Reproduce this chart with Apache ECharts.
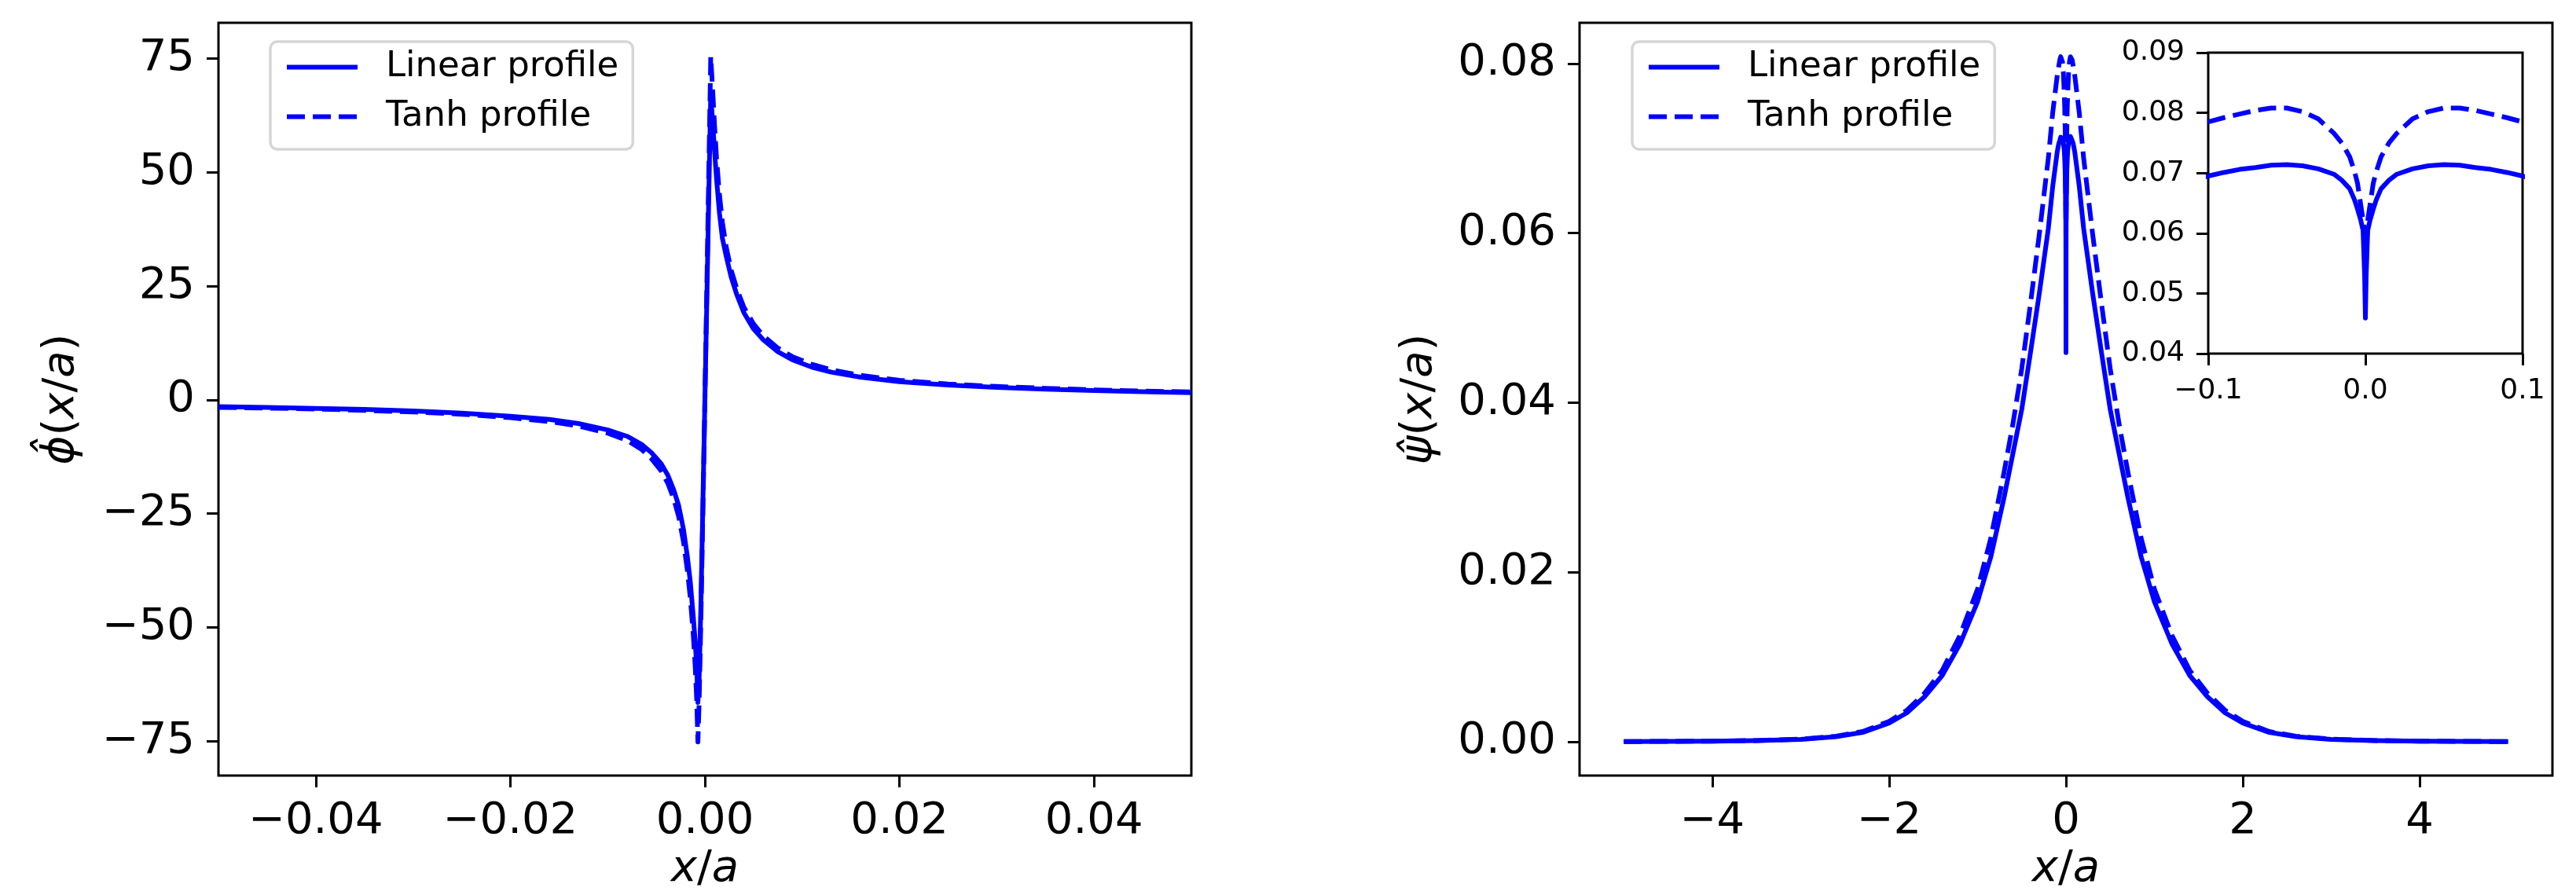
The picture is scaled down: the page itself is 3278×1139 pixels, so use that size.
<!DOCTYPE html>
<html><head><meta charset="utf-8">
<script src="https://cdn.jsdelivr.net/npm/echarts@6/dist/echarts.min.js"></script>
<style>html,body{margin:0;padding:0;background:#fff}#c{width:3278px;height:1139px}</style>
</head><body><div id="c"></div>
<script>
// ---------- data ----------
const seriesNames = ['Linear profile', 'Tanh profile'];

// left panel: phi-hat(x/a)
const phiX = [-0.05,-0.045,-0.04,-0.035,-0.03,-0.025,-0.02,-0.016,-0.013,-0.01,-0.008,-0.0065,-0.0055,-0.0045,-0.0038,-0.0032,-0.0027,-0.0022,-0.0018,-0.0015,-0.0012,-0.001,-0.00085,-0.00072,-0.0006,-0.0004,-0.0002,0,0.0002,0.0004,0.0006,0.0008,0.001,0.0012,0.0015,0.0018,0.0022,0.0027,0.0033,0.004,0.005,0.006,0.0075,0.009,0.011,0.013,0.016,0.02,0.025,0.03,0.035,0.04,0.045,0.05];
const phiLinear = [-1.5,-1.65,-1.85,-2.1,-2.45,-2.9,-3.6,-4.3,-5.2,-6.6,-8.0,-9.8,-11.6,-14.0,-16.6,-19.8,-23.2,-28.5,-34.5,-40,-47.5,-53,-58.5,-66.5,-62,-44,-22,0,22,45,67,61,54.5,48.5,41,35.5,31.5,27,23,19.2,15.6,13.2,10.6,8.8,7.2,6.1,5.0,4.0,3.25,2.75,2.35,2.05,1.8,1.6];
const phiTanh = [-1.65,-1.8,-2.0,-2.3,-2.65,-3.15,-3.9,-4.75,-5.75,-7.3,-8.9,-10.9,-12.9,-15.6,-18.4,-21.8,-25.6,-31.2,-37.5,-43.5,-51.5,-58.5,-65.5,-75.2,-67,-47,-23.5,0,25,50,75.5,68,60,53,45,39,33.5,28.5,24.3,20.4,16.7,14.1,11.4,9.5,7.8,6.6,5.4,4.3,3.5,2.95,2.55,2.2,1.95,1.75];

// right panel: psi-hat(x/a)
const psiX = [-5,-4.5,-4,-3.5,-3,-2.6,-2.3,-2,-1.8,-1.6,-1.4,-1.2,-1,-0.85,-0.7,-0.6,-0.5,-0.4,-0.3,-0.2,-0.15,-0.1,-0.09,-0.08,-0.07,-0.06,-0.05,-0.04,-0.03,-0.02,-0.015,-0.01,-0.007,-0.005,-0.003,-0.0015,-0.0005,0,0.0005,0.0015,0.003,0.005,0.007,0.01,0.015,0.02,0.03,0.04,0.05,0.06,0.07,0.08,0.09,0.1,0.15,0.2,0.3,0.4,0.5,0.6,0.7,0.85,1,1.2,1.4,1.6,1.8,2,2.3,2.6,3,3.5,4,4.5,5];
const psiLinear = [0.00002,0.00004,0.00007,0.00013,0.00027,0.0006,0.0011,0.0022,0.0034,0.0053,0.0078,0.0115,0.0165,0.0218,0.0288,0.0340,0.0392,0.0460,0.0530,0.0605,0.0655,0.0695,0.0701,0.0706,0.0709,0.0713,0.0714,0.0712,0.0707,0.0698,0.0688,0.0674,0.0656,0.0640,0.0622,0.0605,0.0530,0.0459,0.0530,0.0605,0.0622,0.0640,0.0656,0.0674,0.0688,0.0698,0.0707,0.0712,0.0714,0.0713,0.0709,0.0706,0.0701,0.0695,0.0655,0.0605,0.0530,0.0460,0.0392,0.0340,0.0288,0.0218,0.0165,0.0115,0.0078,0.0053,0.0034,0.0022,0.0011,0.0006,0.00027,0.00013,0.00007,0.00004,0.00002];
const psiTanh = [0.00002,0.00004,0.00007,0.00014,0.0003,0.00065,0.0012,0.0024,0.0037,0.0057,0.0084,0.0125,0.0180,0.0240,0.0318,0.0375,0.0440,0.0518,0.0600,0.0688,0.0742,0.0785,0.0792,0.0798,0.0804,0.0808,0.0808,0.0802,0.0790,0.0766,0.0750,0.0727,0.0703,0.0683,0.0648,0.0622,0.0605,0.0596,0.0605,0.0622,0.0648,0.0683,0.0703,0.0727,0.0750,0.0766,0.0790,0.0802,0.0808,0.0808,0.0804,0.0798,0.0792,0.0785,0.0742,0.0688,0.0600,0.0518,0.0440,0.0375,0.0318,0.0240,0.0180,0.0125,0.0084,0.0057,0.0037,0.0024,0.0012,0.00065,0.0003,0.00014,0.00007,0.00004,0.00002];

// tick labels
const phiXTicks = [-0.04,-0.02,0,0.02,0.04];
const phiYTicks = [-75,-50,-25,0,25,50,75];
const psiXTicks = [-4,-2,0,2,4];
const psiYTicks = [0,0.02,0.04,0.06,0.08];
const insetXTicks = [-0.1,0,0.1];
const insetYTicks = [0.04,0.05,0.06,0.07,0.08,0.09];

// ---------- chart ----------
const FONT = "'DejaVu Sans', sans-serif";
const BLUE = '#0000ff';
const DASH = [23, 10];
const fmt = d => v => (v < -1e-12 ? '\u2212' : '') + Math.abs(v).toFixed(d);
const pairs = (xs, ys) => xs.map((x, i) => [x, ys[i]]);

function valueAxis(gridIndex, min, max, ticks, dec, fs, extra) {
  return Object.assign({
    type: 'value', gridIndex, min, max,
    axisLine: { show: false, onZero: false },
    axisTick: { show: true, inside: false, length: 15, customValues: ticks, lineStyle: { color: '#000', width: 3 } },
    axisLabel: { show: true, customValues: ticks, formatter: fmt(dec), fontSize: fs, fontFamily: FONT, color: '#000', margin: 30 },
    splitLine: { show: false }
  }, extra || {});
}
const nameStyle = {
  fontFamily: FONT, fontSize: 56, color: '#000',
  rich: {
    i: { fontFamily: FONT, fontSize: 56, fontStyle: 'italic', color: '#000', lineHeight: 64 },
    n: { fontFamily: FONT, fontSize: 56, color: '#000', lineHeight: 64 }
  }
};
const xName = '{i|x}{n|/}{i|a}';

function lineSeries(name, xi, xs, ys, dashed, z) {
  return {
    type: 'line', name, xAxisIndex: xi, yAxisIndex: xi,
    data: pairs(xs, ys), symbol: 'none', showSymbol: false, clip: true,
    z: z || 2, animation: false,
    lineStyle: { color: BLUE, width: 6, type: dashed ? DASH : 'solid', join: 'round', cap: 'butt' },
    itemStyle: { color: BLUE }
  };
}
function legendAt(left) {
  return {
    data: seriesNames, left, top: 53, orient: 'vertical',
    itemWidth: 90, itemHeight: 14, itemGap: 18,
    padding: [10, 18, 19, 18],
    backgroundColor: '#fff', borderColor: '#d6d6d6', borderWidth: 3.5, borderRadius: 9,
    selectedMode: false,
    lineStyle: { width: 6 },
    itemStyle: { opacity: 0 },
    formatter: n => '{s|}{t|' + n + '}',
    textStyle: { fontFamily: FONT, fontSize: 45, color: '#000',
      rich: { s: { width: 31, lineHeight: 50 }, t: { fontFamily: FONT, fontSize: 45, color: '#000', lineHeight: 50 } } }
  };
}

const gridBox = { show: true, borderColor: '#000', borderWidth: 3, backgroundColor: '#fff' };
const option = {
  animation: false,
  backgroundColor: '#fff',
  grid: [
    Object.assign({ left: 278, top: 29, width: 1238, height: 960 }, gridBox),
    Object.assign({ left: 2010, top: 29, width: 1238, height: 960 }, gridBox),
    Object.assign({ left: 2810, top: 67, width: 400, height: 383, z: 5 }, gridBox)
  ],
  xAxis: [
    valueAxis(0, -0.05, 0.05, phiXTicks, 2, 56, { name: xName, nameLocation: 'middle', nameGap: 76, nameTextStyle: nameStyle }),
    valueAxis(1, -5.5, 5.5, psiXTicks, 0, 56, { name: xName, nameLocation: 'middle', nameGap: 76, nameTextStyle: nameStyle }),
    valueAxis(2, -0.1, 0.1, insetXTicks, 1, 36, { z: 6 })
  ],
  yAxis: [
    valueAxis(0, -82.6, 82.9, phiYTicks, 0, 56, { name: '{i|\u03D5\u0302}{n|(}{i|x}{n|/}{i|a}{n|)}', nameLocation: 'middle', nameRotate: 90, nameGap: 168, nameTextStyle: nameStyle }),
    valueAxis(1, -0.004, 0.0848, psiYTicks, 2, 56, { name: '{i|\u03C8\u0302}{n|(}{i|x}{n|/}{i|a}{n|)}', nameLocation: 'middle', nameRotate: 90, nameGap: 172, nameTextStyle: nameStyle }),
    valueAxis(2, 0.04, 0.09, insetYTicks, 2, 36, { z: 6 })
  ],
  legend: [legendAt(344), legendAt(2077)],
  series: [
    lineSeries(seriesNames[0], 0, phiX, phiLinear, false),
    lineSeries(seriesNames[1], 0, phiX, phiTanh, true),
    lineSeries(seriesNames[0], 1, psiX, psiLinear, false),
    lineSeries(seriesNames[1], 1, psiX, psiTanh, true),
    lineSeries(seriesNames[0], 2, psiX, psiLinear, false, 7),
    lineSeries(seriesNames[1], 2, psiX, psiTanh, true, 7)
  ]
};
const chart = echarts.init(document.getElementById('c'), null, { renderer: 'canvas' });
chart.setOption(option);
</script>
</body></html>
